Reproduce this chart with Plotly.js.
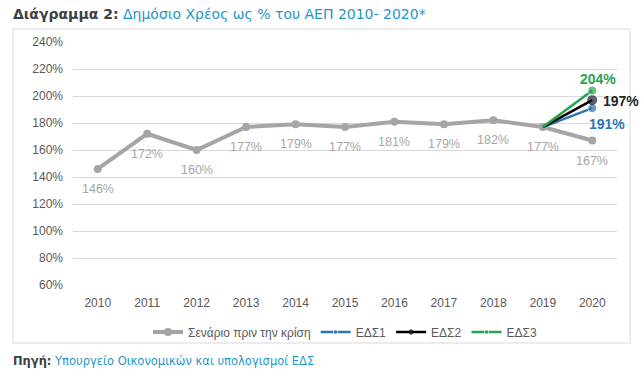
<!DOCTYPE html>
<html>
<head>
<meta charset="utf-8">
<script src="https://cdn.plot.ly/plotly-3.0.1.min.js"></script>
<style>
html,body{margin:0;padding:0;background:#fff;}
#chart{width:644px;height:371px;}
</style>
</head>
<body>
<div id="chart"></div>
<script>
const years = ['2010','2011','2012','2013','2014','2015','2016','2017','2018','2019','2020'];
const baseline = [146,172,160,177,179,177,181,179,182,177,167];
const edsYears = ['2019','2020'];
const eds1 = [177,191];
const eds2 = [177,197];
const eds3 = [177,204];
const seriesNames = ['Σενάριο πριν την κρίση','ΕΔΣ1','ΕΔΣ2','ΕΔΣ3'];
const yTicks = [60,80,100,120,140,160,180,200,220,240];

const gray = '#a5a5a5', blue = '#2e75b6', navy = '#15213b', green = '#22a54a';

const traces = [
  {x: years, y: baseline, name: seriesNames[0], mode:'lines+markers',
   line:{color:gray,width:4}, marker:{color:gray,size:8}},
  {x: edsYears, y: eds1, name: seriesNames[1], mode:'lines+markers',
   line:{color:blue,width:2.5}, marker:{color:blue,size:[0,9]}},
  {x: edsYears, y: eds2, name: seriesNames[2], mode:'lines+markers',
   line:{color:'#000000',width:2.5}, marker:{color:navy,size:[0,9]}},
  {x: edsYears, y: eds3, name: seriesNames[3], mode:'lines+markers',
   line:{color:green,width:2.5}, marker:{color:green,size:[0,9]}}
];

const idx = y => years.indexOf(y);
const annotations = [];
baseline.forEach((v,i)=>{
  annotations.push({x: i, y: v, text: v+'%', showarrow:false,
    yshift:-20, font:{family:'Liberation Sans, Arial', size:12.5, color:'#a6a6a6'}});
});
const last = edsYears.length-1;
const lx = idx(edsYears[last]);
annotations.push({x: lx, y: eds3[last], text:'<b>'+eds3[last]+'%</b>', showarrow:false,
  xshift:6, yshift:12, font:{family:'Liberation Sans, Arial', size:14, color:'#2ca24f'}});
annotations.push({x: lx, y: eds2[last], text:'<b>'+eds2[last]+'%</b>', showarrow:false,
  xanchor:'left', xshift:9, yshift:-1, font:{family:'Liberation Sans, Arial', size:14, color:'#262626'}});
annotations.push({x: lx, y: eds1[last], text:'<b>'+eds1[last]+'%</b>', showarrow:false,
  xshift:15, yshift:-16, font:{family:'Liberation Sans, Arial', size:14, color:'#2e75b6'}});
// title and source
annotations.push({xref:'paper', yref:'paper', x:(11-73)/544, y:(285-14)/243, xanchor:'left', yanchor:'middle',
  showarrow:false, align:'left',
  text:"<b><span style='color:#404040'>Διάγραμμα 2:</span></b> <span style='color:#1e96c8'>Δημόσιο Χρέος ως % του ΑΕΠ 2010- 2020*</span>",
  font:{family:'DejaVu Sans, Verdana', size:14, color:'#1e96c8'}});
annotations.push({xref:'paper', yref:'paper', x:(11-73)/544, y:(285-361)/243, xanchor:'left', yanchor:'middle',
  showarrow:false, align:'left',
  text:"<b><span style='color:#404040'>Πηγή:</span></b> <span style='color:#1e96c8'>Υπουργείο Οικονομικών και υπολογισμοί ΕΔΣ</span>",
  font:{family:'DejaVu Sans, Verdana', size:11.5, color:'#1e96c8'}});

const layout = {
  width:644, height:371,
  margin:{l:73, r:27, t:42, b:86},
  paper_bgcolor:'rgba(0,0,0,0)', plot_bgcolor:'rgba(0,0,0,0)',
  showlegend:true,
  legend:{orientation:'h', x:0.5, xanchor:'center', y:(285-332)/243, yanchor:'middle',
    font:{family:'Liberation Sans, Arial', size:12, color:'#595959'}, traceorder:'normal'},
  xaxis:{type:'category', range:[-0.5, years.length-0.5], autorange:false,
    tickfont:{family:'Liberation Sans, Arial', size:12, color:'#595959'},
    showgrid:false, showline:false, ticks:'', zeroline:false, ticklabelstandoff:9},
  yaxis:{range:[60,240], autorange:false, tickvals:yTicks, ticktext:yTicks.map(v=>v+'%'),
    tickfont:{family:'Liberation Sans, Arial', size:12, color:'#595959'},
    gridcolor:'#d9d9d9', gridwidth:1, zeroline:false, showline:false, ticks:'', ticklen:0,
    ticklabelstandoff:9},
  annotations: annotations,
  shapes:[{type:'rect', xref:'paper', yref:'paper', x0:(13-73)/544, x1:(630-73)/544,
    y0:(285-343)/243, y1:(285-29)/243, line:{color:'#d9d9d9', width:1}, layer:'below'}]
};
Plotly.newPlot('chart', traces, layout, {displayModeBar:false, staticPlot:true});
</script>
</body>
</html>
